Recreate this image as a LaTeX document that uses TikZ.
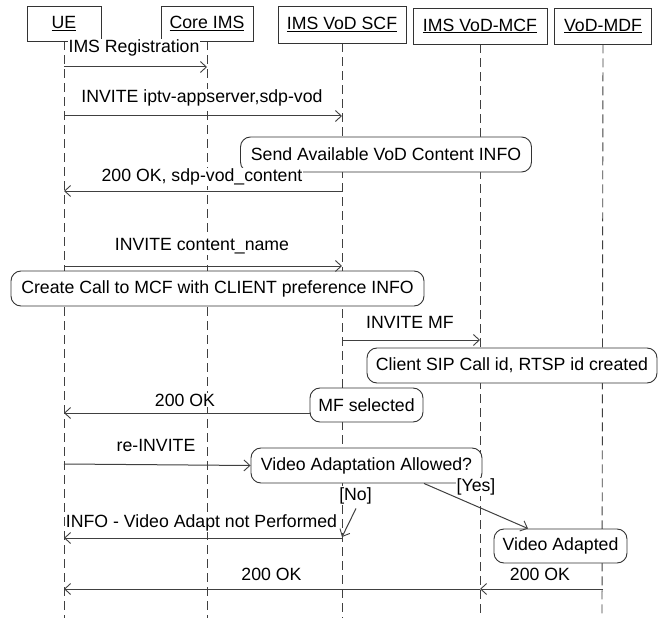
\documentclass[tikz,border=0pt]{standalone}
\usepackage{fontspec}
\setmainfont{Liberation Sans}
\usetikzlibrary{arrows.meta,calc}
\begin{document}
\begin{tikzpicture}[x=1pt,y=-1pt,
  every node/.style={font=\fontsize{17.7}{20}\selectfont, text=black},
  head/.style={draw=black!80, line width=0.9pt, fill=white, minimum height=35pt, inner sep=0pt},
  life/.style={draw=black!75, line width=0.9pt, dash pattern=on 9pt off 5pt},
  lbl/.style={fill=white, inner sep=1pt},
  act/.style={draw=black!80, line width=0.9pt, fill=white, rounded corners=10pt, minimum height=35pt, inner sep=0pt},
  msg/.style={draw=black!75, line width=1pt, -{Straight Barb[length=6pt,width=11pt,line width=0.9pt]}}
]
\useasboundingbox (0,0) rectangle (665,618);
\fill[white] (0,0) rectangle (665,618);
% lifelines
\coordinate (ueB) at (64,618);
\coordinate (coB) at (207,618);
\coordinate (scB) at (342,618);
\coordinate (mcB) at (480,618);
\coordinate (mdB) at (602,618);
\node[head, minimum width=74pt] (ue) at (64,23.5) {\underline{UE}};
\node[head, minimum width=92pt] (co) at (207,23.5) {\underline{Core IMS}};
\node[head, minimum width=128pt, minimum height=37pt] (sc) at (342,24.5) {\underline{IMS VoD SCF}};
\node[head, minimum width=134pt, minimum height=36pt] (mc) at (480,26) {\underline{IMS VoD-MCF}};
\node[head, minimum width=97pt, minimum height=36pt] (md) at (603,26) {\underline{VoD-MDF}};
\draw[life] (ue.south) -- (ueB);
\draw[life] (co.south) -- (coB);
\draw[life] (sc.south) -- (scB);
\draw[life] (mc.south) -- (mcB);
\draw[life] (md.south) -- (mdB);
% redraw boxes above lifelines
\node[head, minimum width=74pt] at (64,23.5) {\underline{UE}};
\node[head, minimum width=92pt] at (207,23.5) {\underline{Core IMS}};
\node[head, minimum width=128pt, minimum height=37pt] at (342,24.5) {\underline{IMS VoD SCF}};
\node[head, minimum width=134pt, minimum height=36pt] at (480,26) {\underline{IMS VoD-MCF}};
\node[head, minimum width=97pt, minimum height=36pt] at (603,26) {\underline{VoD-MDF}};

% activity boxes
\node[act, minimum width=291pt] (send) at (386,154.5) {Send Available VoD Content INFO};
\node[act, minimum width=413pt] (create) at (217.5,288.5) {Create Call to MCF with CLIENT preference INFO};
\node[act, minimum width=290pt] (client) at (512,365.5) {Client SIP Call id, RTSP id created};
\node[act, minimum width=113pt, minimum height=34pt] (mfs) at (366.5,405) {MF selected};
\node[act, minimum width=231pt] (va) at (366.5,465.5) {Video Adaptation Allowed?};
\node[act, minimum width=133pt, minimum height=34pt] (vad) at (560.5,546) {Video Adapted};

% labels
\node[lbl] (l1) at (134,48) {IMS Registration};
\node[lbl] (l2) at (202,98) {INVITE iptv-appserver,sdp-vod};
\node[lbl] (l3) at (202,177) {200 OK, sdp-vod\_content};
\node[lbl] (l4) at (202,246) {INVITE content\_name};
\node[lbl] (l5) at (410,322) {INVITE MF};
\node[lbl] (l6) at (185,400) {200 OK};
\node[lbl] (l7) at (156,445) {re-INVITE};
\node[lbl] (yes) at (476,487) {[Yes]};
\node[lbl] (no) at (355.5,496) {[No]};
\node[lbl] (l8) at (201.5,523) {INFO - Video Adapt not Performed};
\node[lbl] (l9) at (271.5,574) {200 OK};
\node[lbl] (l10) at (540,574) {200 OK};

% messages
\draw[msg] (ue |- 0,67) -- (co |- 0,67);
\draw[msg] (ue |- 0,116) -- (sc |- 0,116);
\draw[msg] (sc |- 0,191) -- (ue |- 0,191);
\draw[msg] (ue |- 0,266) -- (sc |- 0,266);
\draw[msg] (sc |- 0,340) -- (mc |- 0,340);
\draw[msg] (mfs.west |- 0,413) -- (ue |- 0,413);
\draw[msg] (ue |- 0,464) -- (va.west);
\draw[msg] ($(va.south)+(57.5,0)$) -- (vad.north -| 528,0);
\draw[msg] ($(no.south)+(0.5,3)$) -- (sc |- 0,537);
\draw[msg] (sc |- 0,538) -- (ue |- 0,538);
\draw[msg] (md |- 0,589) -- (mc |- 0,589);
\draw[msg] (mc |- 0,589) -- (ue |- 0,589);
\end{tikzpicture}
\end{document}
